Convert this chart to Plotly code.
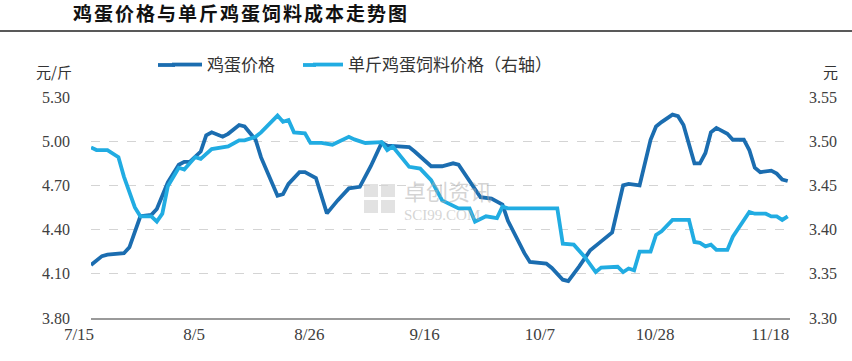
import plotly.graph_objects as go

# ---------------- data ----------------
YEAR = "2021"
egg_dates = ["07-15", "07-17", "07-18", "07-21", "07-22", "07-24", "07-26", "07-27", "07-29", "07-31",
             "08-01", "08-02", "08-04", "08-05", "08-06", "08-08", "08-09", "08-11", "08-12", "08-14",
             "08-15", "08-18", "08-19", "08-20", "08-22", "08-23", "08-25", "08-27", "08-29", "08-31",
             "09-02", "09-04", "09-06", "09-07", "09-11", "09-12", "09-15", "09-17", "09-19", "09-20",
             "09-24", "09-26", "09-28", "09-29", "10-02", "10-03", "10-06", "10-07", "10-09", "10-10",
             "10-12", "10-14", "10-16", "10-18", "10-20", "10-21", "10-23", "10-25", "10-26", "10-27",
             "10-29", "10-30", "10-31", "11-02", "11-03", "11-04", "11-05", "11-06", "11-08", "11-09",
             "11-11", "11-12", "11-13", "11-14", "11-16", "11-17", "11-18", "11-19"]
egg_price = [4.16, 4.22, 4.23, 4.24, 4.28, 4.49, 4.50, 4.54, 4.72, 4.84,
             4.86, 4.86, 4.93, 5.04, 5.06, 5.03, 5.05, 5.11, 5.10, 5.01,
             4.89, 4.63, 4.64, 4.71, 4.79, 4.79, 4.75, 4.51, 4.60, 4.68,
             4.69, 4.83, 4.99, 4.97, 4.96, 4.93, 4.83, 4.83, 4.85, 4.84,
             4.62, 4.61, 4.57, 4.46, 4.24, 4.18, 4.17, 4.14, 4.06, 4.05,
             4.15, 4.26, 4.32, 4.38, 4.70, 4.71, 4.70, 5.01, 5.10, 5.13,
             5.18, 5.17, 5.11, 4.85, 4.85, 4.92, 5.06, 5.09, 5.05, 5.01,
             5.01, 4.94, 4.82, 4.79, 4.80, 4.78, 4.74, 4.73]

feed_dates = ["07-15", "07-16", "07-18", "07-20", "07-21", "07-23", "07-24", "07-26", "07-27", "07-28",
              "07-29", "07-31", "08-01", "08-03", "08-04", "08-06", "08-09", "08-11", "08-12", "08-14",
              "08-15", "08-17", "08-18", "08-19", "08-20", "08-21", "08-23", "08-24", "08-26", "08-28",
              "08-31", "09-01", "09-03", "09-06", "09-07", "09-08", "09-11", "09-13", "09-15", "09-17",
              "09-20", "09-22", "09-23", "09-25", "09-27", "09-28", "09-29", "10-08", "10-09", "10-11",
              "10-13", "10-15", "10-16", "10-19", "10-20", "10-21", "10-22", "10-23", "10-25", "10-26",
              "10-27", "10-29", "11-01", "11-02", "11-03", "11-04", "11-05", "11-06", "11-08", "11-09",
              "11-12", "11-13", "11-15", "11-16", "11-17", "11-18", "11-19"]
feed_cost = [3.493, 3.490, 3.490, 3.482, 3.460, 3.425, 3.415, 3.415, 3.409, 3.418,
             3.449, 3.470, 3.468, 3.482, 3.480, 3.491, 3.494, 3.501, 3.501, 3.505,
             3.510, 3.522, 3.529, 3.522, 3.524, 3.510, 3.509, 3.498, 3.498, 3.496,
             3.505, 3.502, 3.498, 3.499, 3.490, 3.494, 3.471, 3.469, 3.456, 3.433,
             3.424, 3.424, 3.409, 3.415, 3.413, 3.426, 3.424, 3.424, 3.384, 3.383,
             3.369, 3.352, 3.357, 3.358, 3.352, 3.356, 3.354, 3.375, 3.375, 3.394,
             3.398, 3.411, 3.411, 3.386, 3.385, 3.381, 3.383, 3.377, 3.377, 3.392,
             3.420, 3.418, 3.418, 3.415, 3.415, 3.411, 3.415]

tick_dates = ["07-15", "08-05", "08-26", "09-16", "10-07", "10-28", "11-18"]
tick_labels = ["7/15", "8/5", "8/26", "9/16", "10/7", "10/28", "11/18"]

series_names = ["鸡蛋价格", "单斤鸡蛋饲料价格（右轴）"]
title_text = "鸡蛋价格与单斤鸡蛋饲料成本走势图"

# ---------------- figure ----------------
def full(d):
    return [f"{YEAR}-{x}" for x in d]

DARK = "#1b6db0"
LIGHT = "#21ace2"
CJK = "Noto Sans CJK SC"
SERIF = "Liberation Serif"

L, T, PW, PH = 91, 97, 699, 221   # plot area in px


def px(xp):
    return (xp - L) / PW


def py(yp):
    return (T + PH - yp) / PH


fig = go.Figure()
fig.add_trace(go.Scatter(x=full(egg_dates), y=egg_price, name=series_names[0], mode="lines",
                         line=dict(color=DARK, width=3.8), yaxis="y", legend="legend"))
fig.add_trace(go.Scatter(x=full(feed_dates), y=feed_cost, name=series_names[1], mode="lines",
                         line=dict(color=LIGHT, width=3.8), yaxis="y2", legend="legend2"))

leg_common = dict(orientation="h", xanchor="left", yanchor="middle", y=py(65),
                  font=dict(family=CJK, size=17, color="#333333"), bgcolor="rgba(0,0,0,0)")

fig.update_layout(
    width=852, height=361,
    margin=dict(l=L, r=852 - L - PW, t=T, b=361 - T - PH),
    paper_bgcolor="white", plot_bgcolor="white",
    title=dict(text=f"<b><span style='letter-spacing:2px'>{title_text}</span></b>",
               x=73 / 852, xanchor="left", xref="container",
               y=1 - 14 / 361, yanchor="middle", yref="container",
               font=dict(family=CJK, size=19, color="#111111")),
    showlegend=True,
    legend=dict(x=px(167), **leg_common),
    legend2=dict(x=px(308), **leg_common),
    xaxis=dict(type="date", range=[f"{YEAR}-07-15", f"{YEAR}-11-19 10:00"],
               tickmode="array", tickvals=full(tick_dates), ticktext=tick_labels,
               showgrid=False, showline=True, linecolor="#9a9a9a", linewidth=1.5,
               ticks="", ticklabelshift=-12, ticklabelstandoff=0,
               tickfont=dict(family=SERIF, size=17, color="#404040"), zeroline=False),
    yaxis=dict(range=[3.8, 5.3], tickmode="linear", tick0=3.8, dtick=0.3, tickformat=".2f",
               showgrid=True, gridcolor="#d4d4d4", griddash="dash", gridwidth=1,
               showline=False, zeroline=False, ticks="", ticklabelstandoff=20,
               tickfont=dict(family=SERIF, size=16, color="#404040")),
    yaxis2=dict(range=[3.3, 3.55], tickmode="linear", tick0=3.3, dtick=0.05, tickformat=".2f",
                overlaying="y", side="right", showgrid=False, showline=False, zeroline=False,
                ticks="", ticklabelstandoff=18,
                tickfont=dict(family=SERIF, size=16, color="#404040")),
)

# legend line extensions (reference legend lines are longer)
for x0, x1, col in ((158, 175, DARK), (303, 316, LIGHT)):
    fig.add_shape(type="line", xref="paper", yref="paper", x0=px(x0), x1=px(x1),
                  y0=py(65), y1=py(65), line=dict(color=col, width=3.8))

# unit labels
fig.add_annotation(text="元/斤", xref="paper", yref="paper", x=px(54), y=py(72),
                   xanchor="center", yanchor="middle",
                   showarrow=False, font=dict(family=CJK, size=15, color="#333333"))
fig.add_annotation(text="元", xref="paper", yref="paper", x=px(830), y=py(72),
                   xanchor="center", yanchor="middle",
                   showarrow=False, font=dict(family=CJK, size=15, color="#333333"))

# title rule
fig.add_shape(type="line", xref="paper", yref="paper", x0=px(0), x1=px(852),
              y0=py(31), y1=py(31), line=dict(color="#222222", width=1.5))

# watermark
fig.add_annotation(text=f"<span style='font-size:22px;font-family:{CJK}'>卓创资讯</span><br>SCI99.COM",
                   xref="paper", yref="paper", x=px(402), y=py(198),
                   xanchor="left", yanchor="middle", align="left",
                   showarrow=False, font=dict(family=SERIF, size=15, color="rgba(170,170,170,0.5)"))
for dx in (0, 1):
    for dy in (0, 1):
        x0 = 364 + dx * 17
        y0 = 184 + dy * 16
        fig.add_shape(type="rect", xref="paper", yref="paper", layer="below",
                      x0=px(x0), x1=px(x0 + 14), y0=py(y0 + 13), y1=py(y0),
                      line=dict(width=0), fillcolor="rgba(190,190,190,0.45)")

fig.write_html("out.html", config={"displayModeBar": False},
               post_script="document.body.style.margin='0';")
